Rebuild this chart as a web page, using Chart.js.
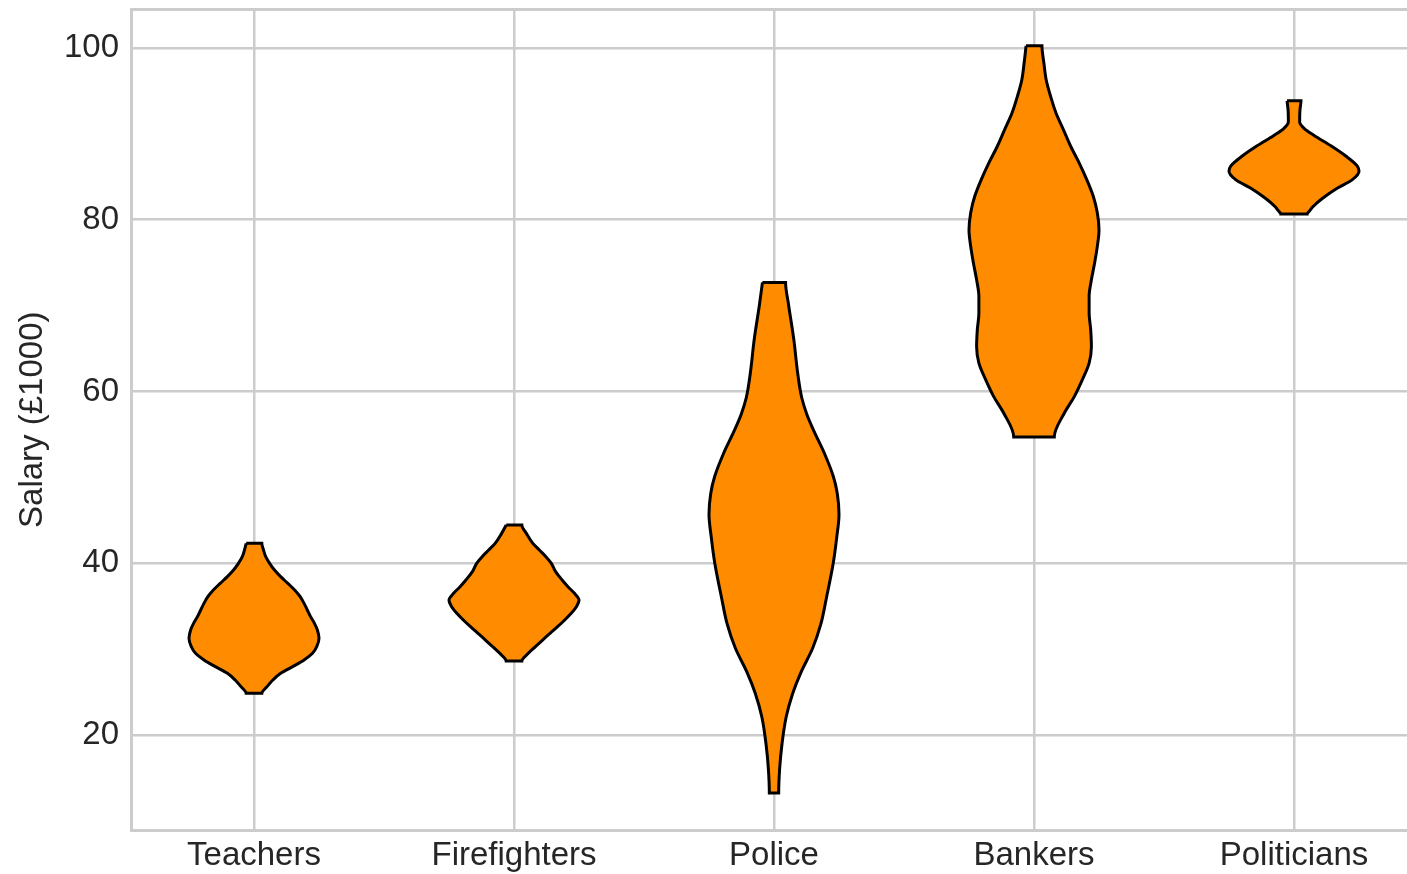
<!DOCTYPE html>
<html>
<head>
<meta charset="utf-8">
<script src="https://cdn.jsdelivr.net/npm/chart.js@4"></script>
<style>
html, body { margin: 0; padding: 0; background: #ffffff; }
#wrap { width: 1407px; height: 874px; }
</style>
</head>
<body>
<div id="wrap"><canvas id="chart" width="1407" height="874"></canvas></div>
<script>
// ---- data ----
const CATEGORIES = ['Teachers', 'Firefighters', 'Police', 'Bankers', 'Politicians'];
const Y_TICKS = [20, 40, 60, 80, 100];
const Y_TITLE = 'Salary (£1000)';

// salary levels (top -> bottom) and relative density (violin half-width, max = 1)
const TEACHERS_SALARY  = [42.32, 41.58, 40.77, 39.99, 39.21, 38.44, 37.66, 36.88, 36.11, 35.33, 34.56, 33.78, 33.00, 32.23, 31.26, 30.29, 29.51, 28.73, 27.96, 27.18, 26.40, 25.63, 24.85];
const TEACHERS_DENSITY = [0.12, 0.145, 0.18, 0.24, 0.315, 0.41, 0.52, 0.625, 0.71, 0.77, 0.82, 0.87, 0.93, 0.975, 1.0, 0.965, 0.9, 0.77, 0.595, 0.41, 0.29, 0.2, 0.12];

const FIREFIGHTERS_SALARY  = [44.45, 43.48, 42.32, 41.54, 40.77, 39.99, 39.02, 38.05, 37.27, 36.50, 35.72, 34.94, 34.17, 33.39, 32.61, 31.84, 31.06, 30.29, 29.51, 28.62];
const FIREFIGHTERS_DENSITY = [0.12, 0.19, 0.29, 0.39, 0.49, 0.575, 0.64, 0.74, 0.83, 0.93, 1.0, 0.96, 0.88, 0.78, 0.67, 0.555, 0.44, 0.33, 0.22, 0.12];

const POLICE_SALARY  = [72.7, 70.1, 66.1, 62.1, 59.3, 57.3, 55.3, 52.9, 50.1, 48.1, 45.7, 42.9, 40.1, 36.1, 32.9, 30.1, 27.3, 24.9, 22.1, 18.9, 16.1, 13.25];
const POLICE_DENSITY = [0.178, 0.224, 0.304, 0.365, 0.426, 0.507, 0.62, 0.77, 0.913, 0.974, 1.0, 0.963, 0.913, 0.81, 0.72, 0.594, 0.415, 0.29, 0.187, 0.122, 0.087, 0.072];

const BANKERS_SALARY  = [100.25, 98.25, 96.3, 94.4, 92.4, 90.5, 88.5, 86.6, 84.7, 82.7, 80.8, 78.8, 76.9, 75.0, 73.0, 71.1, 69.1, 67.2, 65.2, 63.3, 61.4, 59.4, 57.5, 54.7];
const BANKERS_DENSITY = [0.122, 0.152, 0.187, 0.254, 0.34, 0.452, 0.568, 0.696, 0.81, 0.913, 0.974, 1.0, 0.974, 0.933, 0.883, 0.848, 0.848, 0.872, 0.883, 0.848, 0.746, 0.62, 0.467, 0.312];

const POLITICIANS_SALARY  = [93.85, 92.74, 91.37, 90.58, 89.79, 88.61, 87.42, 86.25, 85.65, 84.67, 83.69, 82.50, 81.51, 81.0, 80.67];
const POLITICIANS_DENSITY = [0.107, 0.091, 0.087, 0.163, 0.315, 0.568, 0.796, 0.974, 1.0, 0.898, 0.67, 0.44, 0.29, 0.236, 0.202];

// ---- styling / layout ----
const VIOLIN_HALF_WIDTH = 0.25;
const FILL = '#ff8c00';
const EDGE = '#000000';
const GRID = '#cccccc';
const TEXT = '#262626';
const FONT_FAMILY = '"Liberation Sans", Arial, Helvetica, sans-serif';

const X_MIN = -0.4731, X_MAX = 4.4346;
const Y_MIN = 8.88, Y_MAX = 104.54;

const VIOLINS = [
  [TEACHERS_SALARY, TEACHERS_DENSITY],
  [FIREFIGHTERS_SALARY, FIREFIGHTERS_DENSITY],
  [POLICE_SALARY, POLICE_DENSITY],
  [BANKERS_SALARY, BANKERS_DENSITY],
  [POLITICIANS_SALARY, POLITICIANS_DENSITY]
];

function outline(idx, salary, density) {
  const left = salary.map((s, k) => ({ x: idx - density[k] * VIOLIN_HALF_WIDTH, y: s }));
  const right = salary.map((s, k) => ({ x: idx + density[k] * VIOLIN_HALF_WIDTH, y: s })).reverse();
  return left.concat(right, [left[0]]);
}

const datasets = VIOLINS.map(([salary, density], i) => ({
  label: CATEGORIES[i],
  data: outline(i, salary, density),
  xAxisID: 'x',
  yAxisID: 'y',
  backgroundColor: FILL,
  borderColor: EDGE,
  borderWidth: 3,
  fill: 'shape',
  cubicInterpolationMode: 'monotone',
  pointRadius: 0,
  pointHoverRadius: 0,
  borderJoinStyle: 'miter'
}));

const tickFont = { family: FONT_FAMILY, size: 33 };
const titleFont = { family: FONT_FAMILY, size: 33 };

new Chart(document.getElementById('chart'), {
  type: 'line',
  data: { datasets },
  options: {
    indexAxis: 'y',
    responsive: false,
    animation: false,
    events: [],
    layout: { padding: 0 },
    plugins: { legend: { display: false }, tooltip: { enabled: false }, title: { display: false } },
    scales: {
      x: {
        type: 'linear',
        position: 'bottom',
        min: X_MIN,
        max: X_MAX,
        afterBuildTicks: s => { s.ticks = CATEGORIES.map((_, i) => ({ value: i })); },
        afterFit: s => { s.height = 43.5; s.paddingLeft = 0; s.paddingRight = 0; },
        ticks: {
          callback: v => CATEGORIES[v] ?? '',
          font: tickFont, color: TEXT, padding: 6, maxRotation: 0, autoSkip: false
        },
        grid: { color: GRID, lineWidth: 2.5, drawTicks: false },
        border: { display: true, color: GRID, width: 3 }
      },
      xTop: {
        type: 'linear',
        position: 'top',
        min: X_MIN,
        max: X_MAX,
        afterFit: s => { s.height = 9; s.paddingLeft = 0; s.paddingRight = 0; },
        ticks: { display: false },
        grid: { display: false, drawTicks: false },
        border: { display: true, color: GRID, width: 3 }
      },
      y: {
        type: 'linear',
        position: 'left',
        min: Y_MIN,
        max: Y_MAX,
        afterBuildTicks: s => { s.ticks = Y_TICKS.map(v => ({ value: v })); },
        afterFit: s => { s.width = 131; s.paddingTop = 0; s.paddingBottom = 0; },
        ticks: { font: tickFont, color: TEXT, padding: 12 },
        grid: { color: GRID, lineWidth: 2.5, drawTicks: false },
        border: { display: true, color: GRID, width: 3 },
        title: { display: true, text: Y_TITLE, font: titleFont, color: TEXT, padding: { top: 13, bottom: 0 } }
      }
    }
  }
});
</script>
</body>
</html>
